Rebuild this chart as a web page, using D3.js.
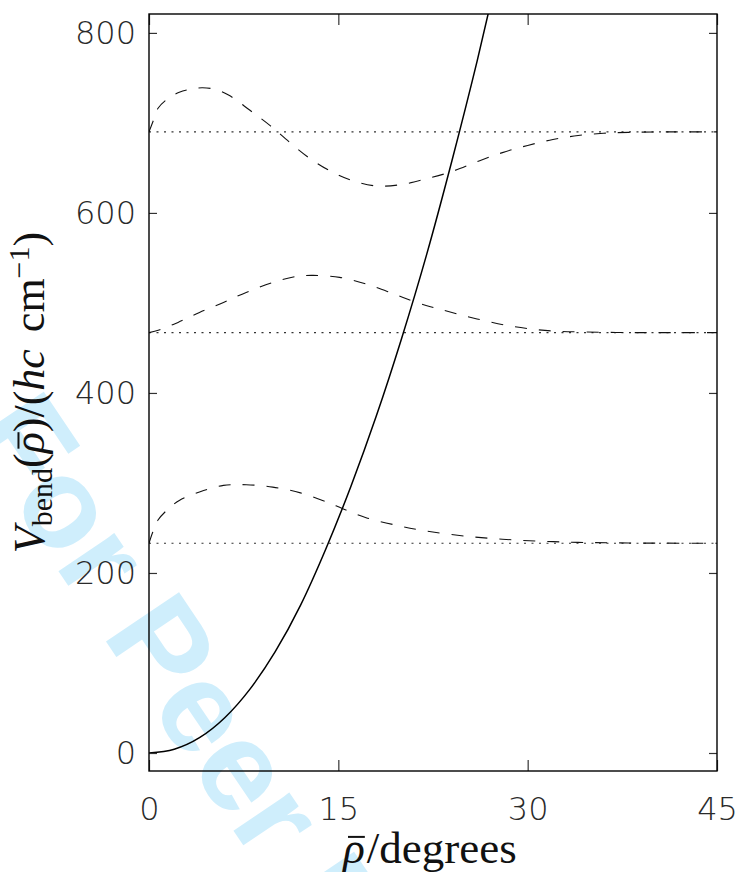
<!DOCTYPE html>
<html>
<head>
<meta charset="utf-8">
<script src="https://cdn.jsdelivr.net/npm/d3@7"></script>
<style>
  html, body { margin: 0; padding: 0; background: #fff; }
  svg { display: block; }
</style>
</head>
<body>
<svg id="chart" width="738" height="872"></svg>
<script>
// ---------------- data ----------------
const xTicks = [0, 15, 30, 45];
const yTicks = [0, 200, 400, 600, 800];

// bending potential (solid)
const potentialRho = [0, 2, 4, 6, 8, 10, 12, 14, 16, 18, 20, 22, 24, 26, 28];
const potentialV   = [0, 4.2, 17, 39.2, 71, 112.5, 164, 226.4, 296.4, 374, 460, 554, 658, 769, 889];

// energy levels (dotted)
const levelValues = [233, 467, 690];

// wavefunctions offset at the levels (dashed)
const wave0Rho = [0, 0.3, 0.7, 1.4, 2.4, 4.0, 5.9, 7.7, 9.8, 12.0, 14.1, 15.4, 17.2, 19.6, 22.0, 25, 28, 31, 34, 38, 45];
const wave0V   = [233, 245.5, 258.5, 269.5, 280.6, 290, 297.3, 298, 295.4, 289, 278.8, 271, 261.4, 253, 246.6, 241, 237.5, 235.3, 234, 233.3, 233];

const wave1Rho = [0, 0.8, 2.3, 4.0, 5.9, 7.7, 9.8, 11.7, 13.0, 15.1, 17.2, 19.4, 20.9, 22.3, 23.3, 24.9, 26.8, 28.6, 30.5, 32.3, 34.4, 37, 40, 45];
const wave1V   = [467, 470, 478.4, 489.5, 500.6, 511.7, 522.8, 529.5, 530.6, 528.4, 521, 510, 502, 495.8, 492, 486, 479.6, 474.4, 470.7, 468.5, 467.8, 467.2, 467, 467];

const wave2Rho = [0, 0.3, 0.7, 1.4, 2.4, 3.3, 4.2, 5.2, 6.3, 8.0, 9.6, 11.1, 12.6, 14.3, 16.0, 18.0, 20.0, 22.0, 24.0, 26.0, 28.0, 30.0, 32.0, 34.0, 36.0, 38.0, 41.0, 45.0];
const wave2V   = [690, 701, 716, 726, 734, 737.5, 739, 737.5, 731, 714, 697, 679, 662, 647, 636.5, 630, 631.5, 638, 646, 657, 667, 675, 681.5, 686, 688.5, 689.5, 690, 690];

// ---------------- layout ----------------
const svg = d3.select("#chart");
const L = 149, R = 717, T = 14, B = 771;
const x = d3.scaleLinear().domain([0, 45]).range([L, R]);
const y = d3.scaleLinear().domain([-20, 821]).range([B, T]);

// watermark (behind everything)
svg.append("text")
  .attr("transform", "translate(-34,434) rotate(56)")
  .attr("font-family", "Liberation Sans, Arial, sans-serif")
  .attr("font-weight", "bold")
  .attr("font-size", 128)
  .attr("fill", "#cfeefc")
  .text("For Peer Review");

svg.append("defs").append("clipPath").attr("id", "plotclip")
  .append("rect").attr("x", L).attr("y", T).attr("width", R - L).attr("height", B - T);

const plot = svg.append("g").attr("clip-path", "url(#plotclip)");

const waveLine = d3.line().x(d => x(d[0])).y(d => y(d[1])).curve(d3.curveCatmullRom.alpha(0.5));
const potLine = d3.line().x(d => x(d[0])).y(d => y(d[1])).curve(d3.curveMonotoneX);

// levels
plot.selectAll(".level").data(levelValues).enter().append("line")
  .attr("x1", x(0)).attr("x2", x(45))
  .attr("y1", d => y(d)).attr("y2", d => y(d))
  .attr("stroke", "#333").attr("stroke-width", 1.1)
  .attr("stroke-dasharray", "2,5.5");

// wavefunctions
[[wave0Rho, wave0V], [wave1Rho, wave1V], [wave2Rho, wave2V]].forEach(([rs, vs]) => {
  plot.append("path")
    .datum(rs.map((r, i) => [r, vs[i]]))
    .attr("d", waveLine)
    .attr("fill", "none").attr("stroke", "#111").attr("stroke-width", 1.1)
    .attr("stroke-dasharray", "12,12");
});

// potential
plot.append("path")
  .datum(potentialRho.map((r, i) => [r, potentialV[i]]))
  .attr("d", potLine)
  .attr("fill", "none").attr("stroke", "#000").attr("stroke-width", 1.5);

// axes
const tickFont = g => g.selectAll("text")
  .attr("font-family", "DejaVu Sans, sans-serif")
  .attr("font-weight", 200)
  .attr("font-size", 32)
  .attr("fill", "#2a2a2a");

const gl = svg.append("g").attr("transform", `translate(${L},0)`)
  .call(d3.axisLeft(y).tickValues(yTicks).tickSizeInner(-8).tickSizeOuter(0).tickPadding(13).tickFormat(d3.format("d")));
gl.select(".domain").remove();
gl.call(tickFont);

const gr = svg.append("g").attr("transform", `translate(${R},0)`)
  .call(d3.axisRight(y).tickValues(yTicks).tickSizeInner(-8).tickSizeOuter(0).tickFormat(""));
gr.select(".domain").remove();

const gb = svg.append("g").attr("transform", `translate(0,${B})`)
  .call(d3.axisBottom(x).tickValues(xTicks).tickSizeInner(-11).tickSizeOuter(0).tickPadding(26).tickFormat(d3.format("d")));
gb.select(".domain").remove();
gb.call(tickFont);

const gt = svg.append("g").attr("transform", `translate(0,${T})`)
  .call(d3.axisTop(x).tickValues(xTicks).tickSizeInner(-11).tickSizeOuter(0).tickFormat(""));
gt.select(".domain").remove();

svg.selectAll(".tick line").attr("stroke", "#333").attr("stroke-width", 1.2);

// frame
svg.append("rect").attr("x", L).attr("y", T).attr("width", R - L).attr("height", B - T)
  .attr("fill", "none").attr("stroke", "#000").attr("stroke-width", 1.4);

// helper: draw a macron bar over a character of a text element
function macron(parent, textSel, idx, fs) {
  const node = textSel.node();
  const ext = node.getExtentOfChar(idx);
  const by = +(textSel.attr("y") || 0);
  parent.append("line")
    .attr("x1", ext.x + ext.width * 0.22).attr("x2", ext.x + ext.width * 1.0)
    .attr("y1", by - fs * 0.58).attr("y2", by - fs * 0.58)
    .attr("stroke", "#111").attr("stroke-width", 2);
}

// x title
const xfs = 45;
const xt = svg.append("text")
  .attr("x", (L + R) / 2 - 3).attr("y", 863)
  .attr("text-anchor", "middle")
  .attr("font-family", "Liberation Serif, Times New Roman, serif")
  .attr("font-size", xfs).attr("fill", "#111");
xt.append("tspan").attr("font-style", "italic").text("ρ");
xt.append("tspan").attr("dx", 2).text("/degrees");
macron(svg, xt, 0, xfs);

// y title
const yfs = 44;
const yg = svg.append("g").attr("transform", `translate(44,${(T + B) / 2}) rotate(-90)`);
const yt = yg.append("text")
  .attr("x", 0).attr("y", 0)
  .attr("text-anchor", "middle")
  .attr("font-family", "Liberation Serif, Times New Roman, serif")
  .attr("font-size", yfs).attr("fill", "#111");
yt.append("tspan").attr("font-style", "italic").text("V");
yt.append("tspan").attr("font-size", 30).attr("dy", 8).text("bend");
yt.append("tspan").attr("dy", -8).text("(");
yt.append("tspan").attr("font-style", "italic").text("ρ");
yt.append("tspan").text(")/(");
yt.append("tspan").attr("font-style", "italic").text("hc");
yt.append("tspan").attr("dx", 6).text(" cm");
yt.append("tspan").attr("font-size", 30).attr("dy", -15).text("\u22121");
yt.append("tspan").attr("dy", 15).text(")");
macron(yg, yt, 6, yfs);
</script>
</body>
</html>
